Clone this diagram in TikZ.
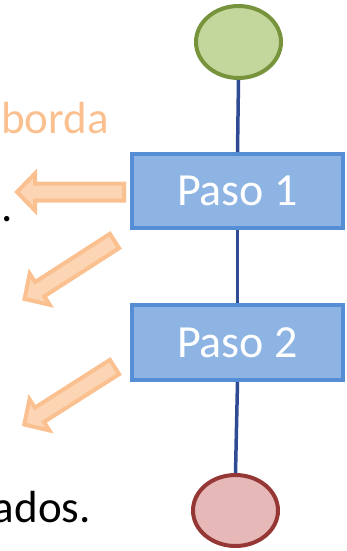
\documentclass[tikz,border=0pt]{standalone}
\usepackage{fontspec}
\setmainfont{Carlito}
\usetikzlibrary{shapes.geometric}

\definecolor{boxfill}{HTML}{8EB4E3}
\definecolor{boxline}{HTML}{558ED5}
\definecolor{linkblue}{HTML}{2F4B94}
\definecolor{startfill}{HTML}{C3D69B}
\definecolor{startline}{HTML}{77933C}
\definecolor{endfill}{HTML}{E6B9B8}
\definecolor{endline}{HTML}{953735}
\definecolor{peachline}{HTML}{FAC090}
\definecolor{peachfill}{HTML}{FCD5B5}

\tikzset{
  stepbox/.style={draw=boxline, fill=boxfill, line width=4pt, rectangle,
    minimum width=211pt, minimum height=74pt, inner sep=0pt,
    text=white, font=\fontsize{46}{55}\selectfont},
  terminal/.style={ellipse, line width=4pt, inner sep=0pt,
    minimum width=85pt, minimum height=72pt},
  link/.style={draw=linkblue, line width=3.5pt},
  bigtext/.style={inner sep=0pt, font=\fontsize{45}{54}\selectfont},
  blockarrow/.style={draw=peachline, fill=peachfill, line width=4pt, line join=miter}
}

% block arrow: tail point, rotation angle, length
\newcommand{\blockarrow}[3]{%
  \begin{scope}[shift={#1}, rotate=#2]
    \draw[blockarrow] (0,-8.5) -- (#3-18,-8.5) -- (#3-18,-18.5) -- (#3,0)
      -- (#3-18,18.5) -- (#3-18,8.5) -- (0,8.5) -- cycle;
  \end{scope}}

\begin{document}
\begin{tikzpicture}[x=1pt, y=-1pt]
  \useasboundingbox (0,0) rectangle (347,551);
  \clip (0,0) rectangle (347,551);

  % flow chart
  \node[terminal, draw=startline, fill=startfill] (start) at (238.5,42) {};
  \node[stepbox] (paso1) at (237.5,191) {Paso 1};
  \node[stepbox, minimum height=75pt] (paso2) at (237.5,342.5) {Paso 2};
  \node[terminal, draw=endline, fill=endfill, minimum height=71pt] (end) at (235.5,510.5) {};

  \draw[link] (start.south) -- (paso1.north);
  \draw[link] (paso1.south) -- (paso2.north);
  \draw[link] (paso2.south) -- (end.north);

  % side text
  \node[bigtext, text=peachline, anchor=base east] (t1) at (109,133) {borda};
  \node[bigtext, anchor=base west] (t2) at (1,221) {.};
  \node[bigtext, anchor=base east] (t3) at (91,522) {ados.};

  % pointing arrows
  \blockarrow{(124,192)}{180}{107}
  \blockarrow{(114.5,241)}{212.8}{107}
  \blockarrow{(114.5,367)}{212.5}{107}
\end{tikzpicture}
\end{document}
